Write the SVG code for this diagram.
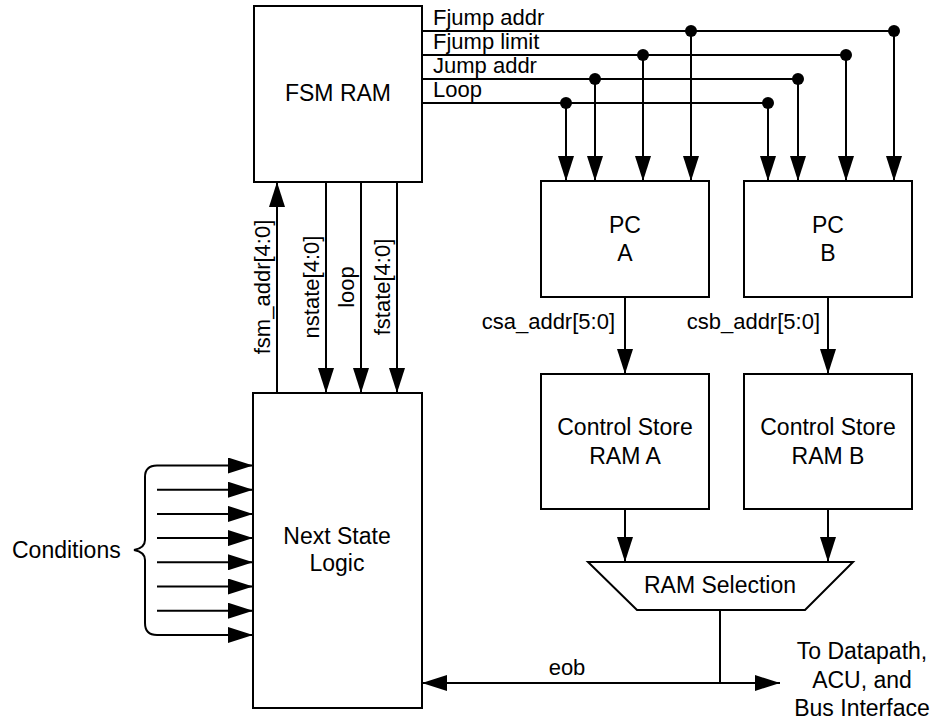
<svg xmlns="http://www.w3.org/2000/svg" width="937" height="723" viewBox="0 0 937 723">
<style>
.box{fill:#fff;stroke:#000;stroke-width:2}
.w{fill:none;stroke:#000;stroke-width:2}
.a{fill:none;stroke:#000;stroke-width:2;marker-end:url(#ah)}
.t{font-family:"Liberation Sans",Arial,sans-serif;font-size:23px;fill:#000;text-anchor:middle}
.l{font-family:"Liberation Sans",Arial,sans-serif;font-size:22px;fill:#000}
.dot{fill:#000}
</style>
<defs>
<marker id="ah" markerUnits="userSpaceOnUse" markerWidth="25" markerHeight="16" refX="25" refY="8" orient="auto-start-reverse">
<path d="M0,0 L25,8 L0,16 Z" fill="#000"/>
</marker>
</defs>
<rect width="937" height="723" fill="#fff"/>
<g id="connectors">
<!-- buses from FSM RAM -->
<line class="w" x1="422" y1="31" x2="894" y2="31"/>
<line class="w" x1="422" y1="55" x2="846" y2="55"/>
<line class="w" x1="422" y1="79" x2="798" y2="79"/>
<line class="w" x1="422" y1="103" x2="768" y2="103"/>
<circle class="dot" cx="691" cy="31" r="6"/>
<circle class="dot" cx="894" cy="31" r="6"/>
<circle class="dot" cx="643" cy="55" r="6"/>
<circle class="dot" cx="846" cy="55" r="6"/>
<circle class="dot" cx="595" cy="79" r="6"/>
<circle class="dot" cx="798" cy="79" r="6"/>
<circle class="dot" cx="566" cy="103" r="6"/>
<circle class="dot" cx="768" cy="103" r="6"/>
<line class="a" x1="566" y1="103" x2="566" y2="181"/>
<line class="a" x1="595" y1="79" x2="595" y2="181"/>
<line class="a" x1="643" y1="55" x2="643" y2="181"/>
<line class="a" x1="691" y1="31" x2="691" y2="181"/>
<line class="a" x1="768" y1="103" x2="768" y2="181"/>
<line class="a" x1="798" y1="79" x2="798" y2="181"/>
<line class="a" x1="846" y1="55" x2="846" y2="181"/>
<line class="a" x1="894" y1="31" x2="894" y2="181"/>
<text class="l" x="433" y="25">Fjump addr</text>
<text class="l" x="433" y="49">Fjump limit</text>
<text class="l" x="433" y="73">Jump addr</text>
<text class="l" x="433" y="97">Loop</text>
<!-- FSM RAM <-> Next State Logic -->
<line class="a" x1="277" y1="393" x2="277" y2="182"/>
<line class="a" x1="326" y1="182" x2="326" y2="393"/>
<line class="a" x1="361" y1="182" x2="361" y2="393"/>
<line class="a" x1="397" y1="182" x2="397" y2="393"/>
<text class="l" text-anchor="middle" transform="translate(270,287) rotate(-90)">fsm_addr[4:0]</text>
<text class="l" text-anchor="middle" transform="translate(319,287) rotate(-90)">nstate[4:0]</text>
<text class="l" text-anchor="middle" transform="translate(354,287) rotate(-90)">loop</text>
<text class="l" text-anchor="middle" transform="translate(390,287) rotate(-90)">fstate[4:0]</text>
<!-- PC to Control Store -->
<line class="a" x1="625" y1="297" x2="625" y2="374"/>
<line class="a" x1="828" y1="297" x2="828" y2="374"/>
<text class="l" text-anchor="end" x="615" y="329">csa_addr[5:0]</text>
<text class="l" text-anchor="end" x="820" y="329">csb_addr[5:0]</text>
<!-- Control Store to RAM Selection -->
<line class="a" x1="625" y1="509" x2="625" y2="562"/>
<line class="a" x1="828" y1="509" x2="828" y2="562"/>
<!-- RAM Selection outputs -->
<line class="w" x1="720" y1="610" x2="720" y2="683"/>
<line class="w" x1="720" y1="683" x2="422" y2="683" style="marker-end:url(#ah)"/>
<line class="a" x1="720" y1="683" x2="780" y2="683"/>
<text class="l" text-anchor="middle" x="567" y="675">eob</text>
<text class="t" x="862" y="659">To Datapath,</text>
<text class="t" x="862" y="688">ACU, and</text>
<text class="t" x="862" y="716">Bus Interface</text>
<!-- Conditions -->
<path class="w" d="M157,465.5 Q145,465.5 145,477 L145,540 Q145,548 134,550 Q145,552 145,560 L145,623 Q145,635 157,635"/>
<line class="a" x1="157" y1="465.5" x2="253" y2="465.5"/>
<line class="a" x1="157" y1="489.7" x2="253" y2="489.7"/>
<line class="a" x1="157" y1="513.9" x2="253" y2="513.9"/>
<line class="a" x1="157" y1="538.1" x2="253" y2="538.1"/>
<line class="a" x1="157" y1="562.3" x2="253" y2="562.3"/>
<line class="a" x1="157" y1="586.5" x2="253" y2="586.5"/>
<line class="a" x1="157" y1="610.7" x2="253" y2="610.7"/>
<line class="a" x1="157" y1="635" x2="253" y2="635"/>
<text class="t" style="text-anchor:start" x="12" y="558">Conditions</text>
</g>
<g id="fsm_ram">
<rect class="box" x="254" y="6" width="168" height="176"/>
<text class="t" x="338" y="101">FSM RAM</text>
</g>
<g id="next_state_logic">
<rect class="box" x="253" y="393" width="169" height="315"/>
<text class="t" x="337" y="544">Next State</text>
<text class="t" x="337" y="571">Logic</text>
</g>
<g id="pc_a">
<rect class="box" x="541" y="181" width="168" height="116"/>
<text class="t" x="625" y="233">PC</text>
<text class="t" x="625" y="261">A</text>
</g>
<g id="pc_b">
<rect class="box" x="744" y="181" width="168" height="116"/>
<text class="t" x="828" y="233">PC</text>
<text class="t" x="828" y="261">B</text>
</g>
<g id="cs_ram_a">
<rect class="box" x="541" y="374" width="168" height="135"/>
<text class="t" x="625" y="435">Control Store</text>
<text class="t" x="625" y="464">RAM A</text>
</g>
<g id="cs_ram_b">
<rect class="box" x="744" y="374" width="168" height="135"/>
<text class="t" x="828" y="435">Control Store</text>
<text class="t" x="828" y="464">RAM B</text>
</g>
<g id="ram_selection">
<polygon class="box" points="588,562 853,562 805,610 637,610"/>
<text class="t" x="720" y="593">RAM Selection</text>
</g>
</svg>
